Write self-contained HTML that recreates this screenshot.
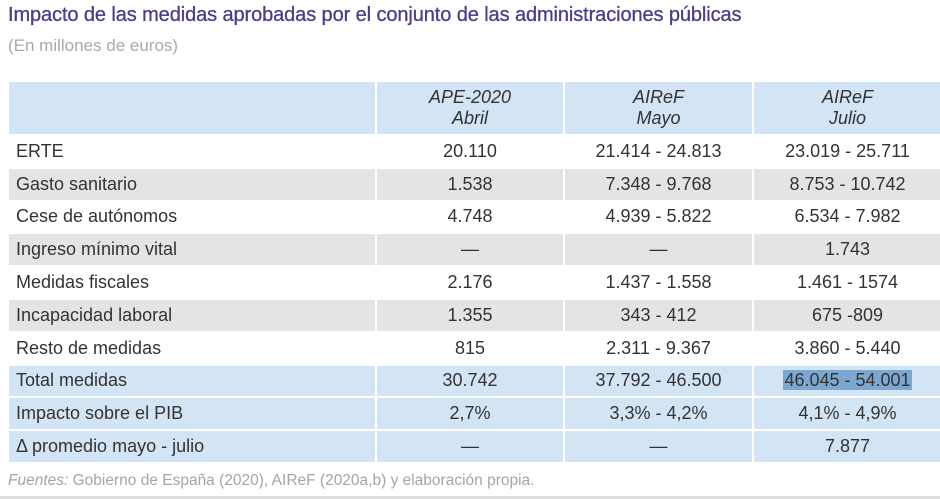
<!DOCTYPE html>
<html><head><meta charset="utf-8"><style>
body{margin:0;width:940px;height:499px;background:#fff;font-family:"Liberation Sans",sans-serif;position:relative;overflow:hidden}
.t{position:absolute;left:8px;top:4px;font-size:20px;color:#4a3d8a;white-space:nowrap;letter-spacing:-0.1px;-webkit-text-stroke:0.3px #4a3d8a}
.s{position:absolute;left:8px;top:36px;font-size:17px;color:#a9a9a9}
table{position:absolute;left:7px;top:80px;border-collapse:collapse;width:934px;table-layout:fixed}
td{height:30.8px;padding:0;border:2px solid #fff;font-size:18px;color:#333;text-align:center}
td:first-child{text-align:left;padding-left:7px}
tr.h td{height:52px;background:#d3e4f5;font-style:italic;line-height:21px}
tr.g td{background:#e4e4e4}
tr.b td{background:#d3e4f5}
.hl{background:#7ba7d0;padding:0 1px}
.f{position:absolute;left:8px;top:472px;font-size:15.5px;color:#a5a5a5}
.line{position:absolute;left:0;top:496px;width:940px;height:3px;background:#ddd}
</style></head><body>
<div class="t">Impacto de las medidas aprobadas por el conjunto de las administraciones públicas</div>
<div class="s">(En millones de euros)</div>
<table>
<colgroup><col style="width:368px"><col style="width:188px"><col style="width:189px"><col style="width:189px"></colgroup>
<tr class="h"><td></td><td>APE-2020<br>Abril</td><td>AIReF<br>Mayo</td><td>AIReF<br>Julio</td></tr>
<tr><td>ERTE</td><td>20.110</td><td>21.414 - 24.813</td><td>23.019 - 25.711</td></tr>
<tr class="g"><td>Gasto sanitario</td><td>1.538</td><td>7.348 - 9.768</td><td>8.753 - 10.742</td></tr>
<tr><td>Cese de autónomos</td><td>4.748</td><td>4.939 - 5.822</td><td>6.534 - 7.982</td></tr>
<tr class="g"><td>Ingreso mínimo vital</td><td>—</td><td>—</td><td>1.743</td></tr>
<tr><td>Medidas fiscales</td><td>2.176</td><td>1.437 - 1.558</td><td>1.461 - 1574</td></tr>
<tr class="g"><td>Incapacidad laboral</td><td>1.355</td><td>343 - 412</td><td>675 -809</td></tr>
<tr><td>Resto de medidas</td><td>815</td><td>2.311 - 9.367</td><td>3.860 - 5.440</td></tr>
<tr class="b"><td>Total medidas</td><td>30.742</td><td>37.792 - 46.500</td><td><span class="hl">46.045 - 54.001</span></td></tr>
<tr class="b"><td>Impacto sobre el PIB</td><td>2,7%</td><td>3,3% - 4,2%</td><td>4,1% - 4,9%</td></tr>
<tr class="b"><td>Δ promedio mayo - julio</td><td>—</td><td>—</td><td>7.877</td></tr>
</table>
<div class="f"><i>Fuentes:</i> Gobierno de España (2020), AIReF (2020a,b) y elaboración propia.</div>
<div class="line"></div>
</body></html>
